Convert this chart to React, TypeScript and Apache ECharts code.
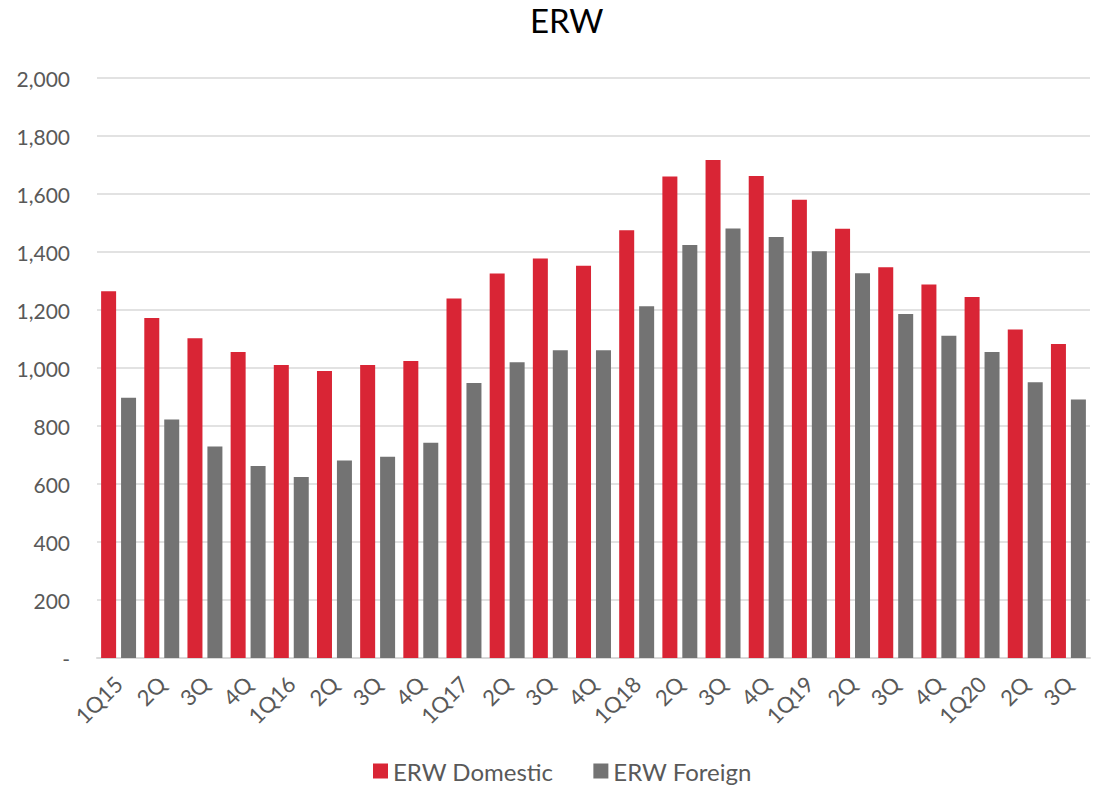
import React, { useEffect, useRef } from "react";
import * as echarts from "echarts";

const categories = [
  "1Q15", "2Q", "3Q", "4Q",
  "1Q16", "2Q", "3Q", "4Q",
  "1Q17", "2Q", "3Q", "4Q",
  "1Q18", "2Q", "3Q", "4Q",
  "1Q19", "2Q", "3Q", "4Q",
  "1Q20", "2Q", "3Q",
];

const domestic = [
  1265, 1172, 1103, 1055,
  1010, 990, 1010, 1024,
  1240, 1326, 1378, 1353,
  1475, 1660, 1717, 1662,
  1580, 1480, 1347, 1288,
  1245, 1133, 1083,
];

const foreign = [
  897, 822, 729, 662,
  624, 681, 694, 742,
  948, 1020, 1061, 1061,
  1213, 1424, 1481, 1452,
  1403, 1327, 1186, 1111,
  1055, 951, 891,
];

const yTicks = { min: 0, max: 2000, interval: 200 };

const FONT = "Lato, 'Open Sans', sans-serif";

export default function App() {
  const ref = useRef<HTMLDivElement>(null);

  useEffect(() => {
    if (!ref.current) return;
    const chart = echarts.init(ref.current, undefined, { renderer: "svg" });
    chart.setOption({
      animation: false,
      backgroundColor: "#ffffff",
      title: {
        text: "ERW",
        left: 525,
        top: -2,
        textStyle: { fontFamily: FONT, fontSize: 33, fontWeight: "normal", color: "#000000" },
      },
      legend: {
        top: 754,
        left: 368,
        itemWidth: 15,
        itemHeight: 15,
        itemGap: 40,
        icon: "rect",
        textStyle: { fontFamily: FONT, fontSize: 24, color: "#595959" },
        data: ["ERW Domestic", "ERW Foreign"],
      },
      grid: { left: 97, right: 4, top: 78, bottom: 128, containLabel: false },
      xAxis: {
        type: "category",
        data: categories,
        axisLine: { show: true, lineStyle: { color: "#d9d9d9", width: 2 } },
        axisTick: { show: false },
        axisLabel: {
          rotate: 45,
          interval: 0,
          margin: 22,
          fontFamily: FONT,
          fontSize: 22,
          color: "#595959",
        },
      },
      yAxis: {
        type: "value",
        min: yTicks.min,
        max: yTicks.max,
        interval: yTicks.interval,
        axisLine: { show: false },
        axisTick: { show: false },
        splitLine: { lineStyle: { color: "#d9d9d9", width: 1.5 } },
        axisLabel: {
          margin: 27,
          fontFamily: FONT,
          fontSize: 21,
          color: "#595959",
          formatter: (v: number) => (v === 0 ? "-" : v.toLocaleString("en-US")),
        },
      },
      series: [
        {
          name: "ERW Domestic",
          type: "bar",
          data: domestic,
          barWidth: 15,
          barGap: "33%",
          itemStyle: { color: "#d92535" },
        },
        {
          name: "ERW Foreign",
          type: "bar",
          data: foreign,
          barWidth: 15,
          itemStyle: { color: "#737373" },
        },
      ],
    });
    return () => chart.dispose();
  }, []);

  return (
    <div
      ref={ref}
      style={{ position: "fixed", left: 0, top: 0, width: 1094, height: 786 }}
    />
  );
}
